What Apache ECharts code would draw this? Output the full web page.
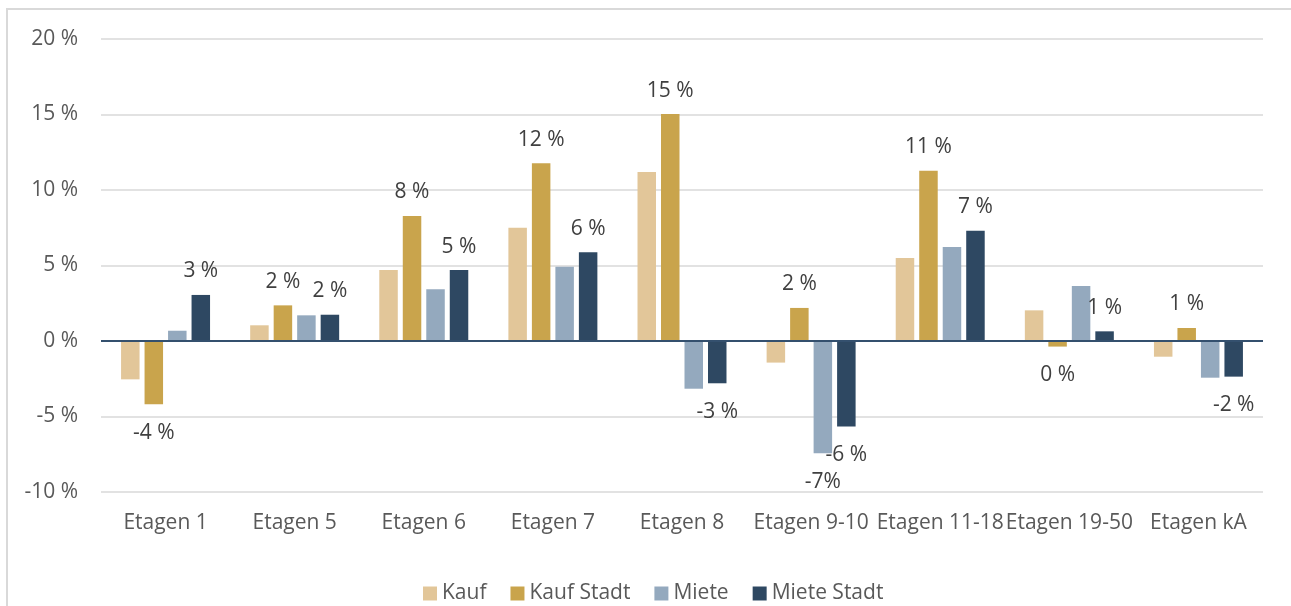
<!DOCTYPE html>
<html>
<head>
<meta charset="utf-8">
<script src="https://cdn.jsdelivr.net/npm/echarts@6/dist/echarts.min.js"></script>
<style>
  html, body { margin: 0; padding: 0; background: #fff; }
  #chart { width: 1291px; height: 606px; }
</style>
</head>
<body>
<div id="chart"></div>
<script>
// Kategorien
const categories = ["Etagen 1", "Etagen 5", "Etagen 6", "Etagen 7", "Etagen 8", "Etagen 9-10", "Etagen 11-18", "Etagen 19-50", "Etagen kA"];

// Werte in %
const kauf = [-2.54, 1.04, 4.70, 7.50, 11.19, -1.43, 5.50, 2.03, -1.04];
const kaufStadt = [-4.19, 2.36, 8.28, 11.77, 15.03, 2.19, 11.28, -0.37, 0.86];
const miete = [0.68, 1.70, 3.42, 4.92, -3.16, -7.44, 6.23, 3.64, -2.43];
const mieteStadt = [3.05, 1.74, 4.70, 5.87, -2.80, -5.67, 7.30, 0.64, -2.36];

// Datenbeschriftungen (null = keine)
const kaufStadtLabels = ["-4 %", "2 %", "8 %", "12 %", "15 %", "2 %", "11 %", "0 %", "1 %"];
const mieteLabels = [null, null, null, null, null, "-7%", null, null, null];
const mieteStadtLabels = ["3 %", "2 %", "5 %", "6 %", "-3 %", "-6 %", "7 %", "1 %", "-2 %"];

const yTicks = { min: -10, max: 20, interval: 5 };

const FONT = "'Open Sans', 'Noto Sans', sans-serif";
const FONT_SIZE = 21;

// Datenpunkte mit Beschriftung oben/unten je nach Vorzeichen
function withLabels(values, labels) {
  return values.map(function (v, i) {
    const text = labels ? labels[i] : null;
    if (!text) return { value: v, label: { show: false } };
    return {
      value: v,
      label: {
        show: true,
        position: v >= 0 ? "top" : "bottom",
        distance: v >= 0 ? 13 : 18,
        formatter: text,
      },
    };
  });
}

const barLabel = {
  fontFamily: FONT,
  fontSize: FONT_SIZE,
  color: "#404040",
};

const chart = echarts.init(document.getElementById("chart"), null, { renderer: "canvas" });

const option = {
  animation: false,
  color: ["#E2C699", "#C9A44C", "#94A9BE", "#2E4862"],
  textStyle: { fontFamily: FONT },
  // Rahmen des Diagrammbereichs (rechts/unten abgeschnitten)
  graphic: [
    {
      type: "rect",
      shape: { x: 7, y: 9, width: 1400, height: 700 },
      style: { fill: "none", stroke: "#D9D9D9", lineWidth: 2 },
      silent: true,
    },
  ],
  grid: {
    left: 101,
    right: 28,
    top: 39,
    bottom: 114,
  },
  legend: {
    left: 423,
    top: 583,
    padding: 0,
    itemWidth: 14,
    itemHeight: 14,
    itemGap: 24,
    icon: "rect",
    textStyle: {
      fontFamily: FONT,
      fontSize: FONT_SIZE,
      color: "#595959",
    },
    data: ["Kauf", "Kauf Stadt", "Miete", "Miete Stadt"],
  },
  xAxis: {
    type: "category",
    data: categories,
    axisLine: { show: false, onZero: false },
    axisTick: { show: false },
    axisLabel: {
      interval: 0,
      hideOverlap: false,
      margin: 21,
      fontFamily: FONT,
      fontSize: FONT_SIZE,
      color: "#595959",
    },
  },
  yAxis: {
    type: "value",
    min: yTicks.min,
    max: yTicks.max,
    interval: yTicks.interval,
    axisLine: { show: false },
    axisTick: { show: false },
    splitLine: { lineStyle: { color: "#D9D9D9", width: 1.5 } },
    axisLabel: {
      margin: 23,
      fontFamily: FONT,
      fontSize: FONT_SIZE,
      color: "#595959",
      formatter: function (v) {
        return v + " %";
      },
    },
  },
  series: [
    {
      name: "Kauf",
      type: "bar",
      barWidth: 18.5,
      barGap: "27%",
      data: withLabels(kauf, null),
      label: barLabel,
      // Nulllinie
      markLine: {
        silent: true,
        symbol: "none",
        label: { show: false },
        lineStyle: { color: "#34506E", width: 2, type: "solid" },
        data: [{ yAxis: 0 }],
        z: 10,
      },
    },
    {
      name: "Kauf Stadt",
      type: "bar",
      barWidth: 18.5,
      barGap: "27%",
      data: withLabels(kaufStadt, kaufStadtLabels),
      label: barLabel,
    },
    {
      name: "Miete",
      type: "bar",
      barWidth: 18.5,
      barGap: "27%",
      data: withLabels(miete, mieteLabels),
      label: barLabel,
    },
    {
      name: "Miete Stadt",
      type: "bar",
      barWidth: 18.5,
      barGap: "27%",
      data: withLabels(mieteStadt, mieteStadtLabels),
      label: barLabel,
    },
  ],
};

chart.setOption(option);
</script>
</body>
</html>
